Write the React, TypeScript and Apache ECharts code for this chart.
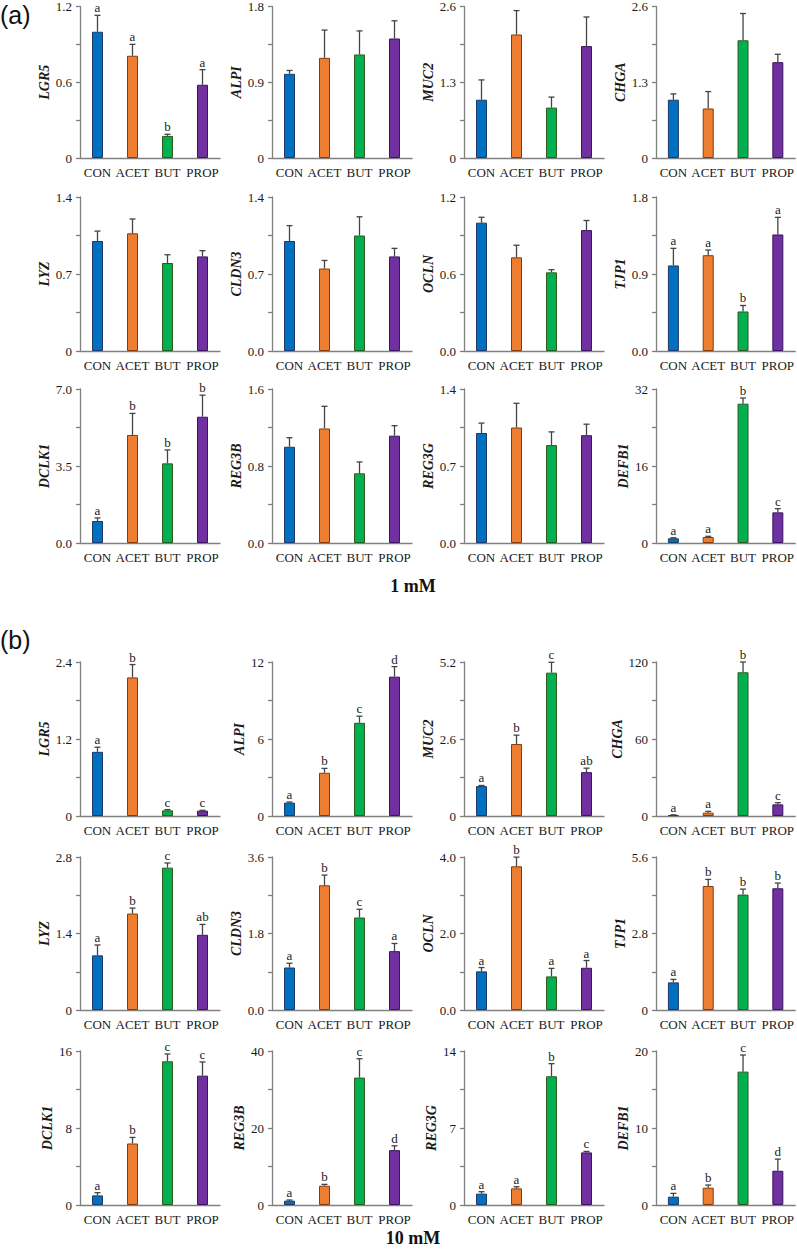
import React, { useEffect, useRef } from "react";
import * as echarts from "echarts";

const groups = ["CON", "ACET", "BUT", "PROP"];
const genes = ["LGR5", "ALPI", "MUC2", "CHGA", "LYZ", "CLDN3", "OCLN", "TJP1", "DCLK1", "REG3B", "REG3G", "DEFB1"];

// (a) 1 mM
const meanA = [
  [1.0, 0.81, 0.175, 0.58],
  [1.0, 1.19, 1.23, 1.42],
  [1.0, 2.12, 0.865, 1.92],
  [1.0, 0.85, 2.02, 1.645],
  [1.0, 1.07, 0.8, 0.86],
  [1.0, 0.75, 1.05, 0.86],
  [1.0, 0.73, 0.613, 0.942],
  [1.0, 1.12, 0.462, 1.362],
  [1.0, 4.91, 3.62, 5.74],
  [1.0, 1.19, 0.724, 1.115],
  [1.0, 1.05, 0.89, 0.98],
  [0.97, 1.25, 28.95, 6.37],
];
const semA = [
  [0.13, 0.09, 0.013, 0.12],
  [0.04, 0.33, 0.28, 0.21],
  [0.34, 0.41, 0.18, 0.5],
  [0.1, 0.29, 0.46, 0.135],
  [0.09, 0.13, 0.075, 0.052],
  [0.14, 0.073, 0.17, 0.073],
  [0.042, 0.094, 0.021, 0.075],
  [0.2, 0.06, 0.07, 0.2],
  [0.14, 0.98, 0.61, 0.98],
  [0.094, 0.23, 0.118, 0.104],
  [0.09, 0.22, 0.12, 0.1],
  [0.13, 0.14, 1.18, 0.76],
];
const lettersA = [
  ["a", "a", "b", "a"], [], [], [],
  [], [], [], ["a", "a", "b", "a"],
  ["a", "b", "b", "b"], [], [], ["a", "a", "b", "c"],
];
const ticksA = [
  ["0", "0.6", "1.2"], ["0", "0.9", "1.8"], ["0", "1.3", "2.6"], ["0", "1.3", "2.6"],
  ["0", "0.7", "1.4"], ["0.0", "0.7", "1.4"], ["0.0", "0.6", "1.2"], ["0.0", "0.9", "1.8"],
  ["0.0", "3.5", "7.0"], ["0.0", "0.8", "1.6"], ["0.0", "0.7", "1.4"], ["0", "16", "32"],
];

// (b) 10 mM
const meanB = [
  [1.0, 2.16, 0.088, 0.083],
  [1.04, 3.37, 7.26, 10.86],
  [1.01, 2.43, 4.84, 1.48],
  [0.78, 2.6, 112, 9.07],
  [1.0, 1.765, 2.605, 1.376],
  [1.0, 2.935, 2.176, 1.385],
  [1.01, 3.757, 0.878, 1.104],
  [1.01, 4.54, 4.224, 4.456],
  [1.0, 6.39, 14.93, 13.44],
  [1.12, 5.01, 33.09, 14.25],
  [1.03, 1.51, 11.7, 4.78],
  [1.08, 2.25, 17.32, 4.45],
];
const semB = [
  [0.072, 0.2, 0.012, 0.006],
  [0.05, 0.34, 0.52, 0.78],
  [0.02, 0.3, 0.35, 0.135],
  [0.1, 1.0, 8.0, 1.3],
  [0.19, 0.1, 0.085, 0.19],
  [0.1, 0.24, 0.195, 0.18],
  [0.1, 0.24, 0.21, 0.19],
  [0.11, 0.24, 0.2, 0.19],
  [0.28, 0.63, 0.76, 1.42],
  [0.18, 0.35, 4.9, 1.13],
  [0.18, 0.15, 1.15, 0.09],
  [0.43, 0.34, 2.16, 1.51],
];
const lettersB = [
  ["a", "b", "c", "c"], ["a", "b", "c", "d"], ["a", "b", "c", "ab"], ["a", "a", "b", "c"],
  ["a", "b", "c", "ab"], ["a", "b", "c", "a"], ["a", "b", "a", "a"], ["a", "b", "b", "b"],
  ["a", "b", "c", "c"], ["a", "b", "c", "d"], ["a", "a", "b", "c"], ["a", "b", "c", "d"],
];
const ticksB = [
  ["0", "1.2", "2.4"], ["0", "6", "12"], ["0", "2.6", "5.2"], ["0", "60", "120"],
  ["0", "1.4", "2.8"], ["0.0", "1.8", "3.6"], ["0.0", "2.0", "4.0"], ["0", "2.8", "5.6"],
  ["0", "8", "16"], ["0", "20", "40"], ["0", "7", "14"], ["0", "10", "20"],
];

const colors = ["#0070C0", "#ED7D31", "#00B050", "#7030A0"];
const borders = ["#1F3864", "#843C0C", "#2E5A1C", "#3A1560"];

const SERIF = "Liberation Serif";
const SANS = "Liberation Sans";
const colLeft = [80, 272, 464, 656];
const rowsA = [[5, 158], [197, 351], [389, 543]];
const rowsB = [[662, 816], [857, 1010], [1051, 1205]];
const AXIS_COLOR = "#808080";
const TEXT_COLOR = "#1a1a1a";

function buildOption() {
  const grid: any[] = [];
  const xAxis: any[] = [];
  const yAxis: any[] = [];
  const series: any[] = [];
  for (let k = 0; k < 24; k++) {
    const isA = k < 12;
    const idx = k % 12;
    const r = Math.floor(idx / 4);
    const c = idx % 4;
    const rows = isA ? rowsA : rowsB;
    const means = (isA ? meanA : meanB)[idx];
    const sems = (isA ? semA : semB)[idx];
    const letters = (isA ? lettersA : lettersB)[idx];
    const ticks = (isA ? ticksA : ticksB)[idx];
    const M = parseFloat(ticks[2]);
    const step = M / 2;
    grid.push({ left: colLeft[c], top: rows[r][0], width: 140, height: rows[r][1] - rows[r][0] });
    xAxis.push({
      type: "category",
      gridIndex: k,
      data: groups,
      axisTick: { show: false },
      axisLine: { lineStyle: { color: AXIS_COLOR, width: 1.3 } },
      axisLabel: { color: TEXT_COLOR, fontFamily: SERIF, fontSize: 13, margin: 8, interval: 0 },
    });
    yAxis.push({
      type: "value",
      gridIndex: k,
      min: 0,
      max: M,
      interval: step,
      name: genes[idx],
      nameLocation: "middle",
      nameGap: 26,
      nameTextStyle: { fontFamily: SERIF, fontStyle: "italic", fontWeight: "bold", fontSize: 14, color: TEXT_COLOR },
      axisLine: { show: true, lineStyle: { color: AXIS_COLOR, width: 1.3 } },
      axisTick: { show: true, length: 4, lineStyle: { color: AXIS_COLOR, width: 1.3 } },
      minorTick: { show: true, splitNumber: 2, length: 4, lineStyle: { color: AXIS_COLOR, width: 1.3 } },
      splitLine: { show: false },
      minorSplitLine: { show: false },
      axisLabel: {
        color: TEXT_COLOR,
        fontFamily: SERIF,
        fontSize: 13,
        margin: 8,
        formatter: (v: number) => ticks[Math.round(v / step)] ?? "",
      },
    });
    series.push({
      type: "bar",
      xAxisIndex: k,
      yAxisIndex: k,
      barWidth: 11,
      data: means.map((v, i) => ({
        value: v,
        itemStyle: { color: colors[i], borderColor: borders[i], borderWidth: 1 },
      })),
    });
    series.push({
      type: "custom",
      xAxisIndex: k,
      yAxisIndex: k,
      z: 3,
      data: means.map((v, i) => [i, v, v + sems[i]]),
      renderItem: (params: any, api: any) => {
        const i = api.value(0);
        const m = api.value(1);
        const e = api.value(2);
        const p0 = api.coord([i, m]);
        const p1 = api.coord([i, e]);
        const style = { stroke: "#444", lineWidth: 1.3 };
        const children: any[] = [
          { type: "line", shape: { x1: p0[0], y1: p0[1], x2: p1[0], y2: p1[1] }, style },
          { type: "line", shape: { x1: p1[0] - 3, y1: p1[1], x2: p1[0] + 3, y2: p1[1] }, style },
        ];
        const letter = letters[params.dataIndex];
        if (letter) {
          children.push({
            type: "text",
            x: p1[0],
            y: p1[1] - 1,
            style: {
              text: letter,
              align: "center",
              verticalAlign: "bottom",
              fontFamily: SERIF,
              fontSize: 13,
              fill: TEXT_COLOR,
            },
          });
        }
        return { type: "group", children };
      },
    });
  }
  const graphic = [
    { type: "text", left: 0, top: 2, style: { text: "(a)", fontFamily: SANS, fontSize: 25, fill: "#111" } },
    { type: "text", left: 0, top: 627, style: { text: "(b)", fontFamily: SANS, fontSize: 25, fill: "#111" } },
    { type: "text", x: 413, y: 586, style: { text: "1 mM", align: "center", verticalAlign: "middle", fontFamily: SERIF, fontWeight: "bold", fontSize: 18, fill: "#111" } },
    { type: "text", x: 413, y: 1238, style: { text: "10 mM", align: "center", verticalAlign: "middle", fontFamily: SERIF, fontWeight: "bold", fontSize: 18, fill: "#111" } },
  ];
  return { animation: false, backgroundColor: "#fff", grid, xAxis, yAxis, series, graphic };
}

export default function App() {
  const ref = useRef<HTMLDivElement>(null);
  useEffect(() => {
    if (!ref.current) return;
    const chart = echarts.init(ref.current, undefined, { renderer: "svg" });
    chart.setOption(buildOption() as any);
    return () => chart.dispose();
  }, []);
  return (
    <div
      ref={ref}
      style={{ position: "absolute", left: 0, top: 0, width: 797, height: 1249, background: "#fff" }}
    />
  );
}
